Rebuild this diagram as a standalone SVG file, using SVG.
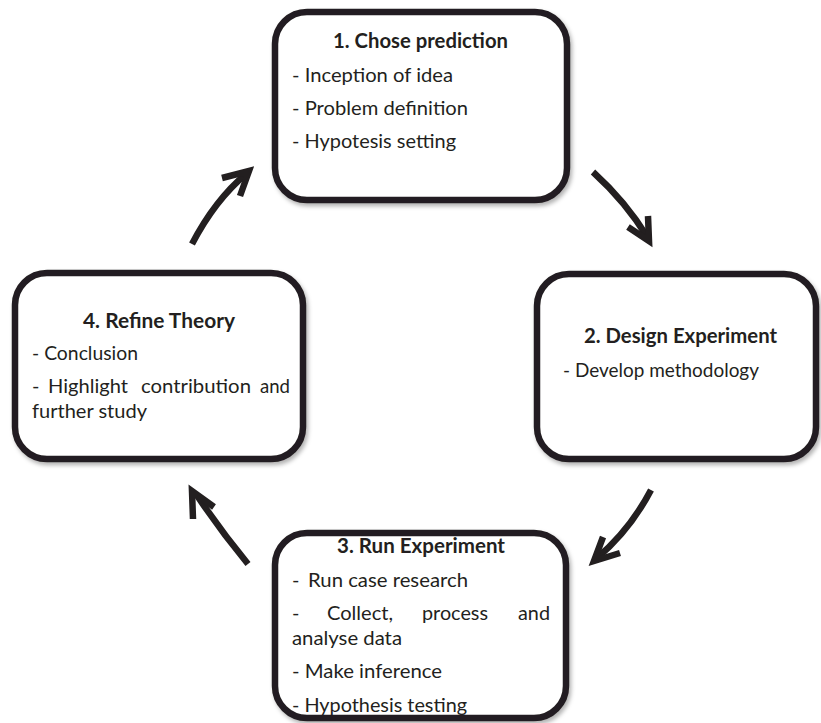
<svg xmlns="http://www.w3.org/2000/svg" width="821" height="723" viewBox="0 0 821 723">
  <style>
    .box { fill: #ffffff; stroke: #231f20; stroke-width: 6.5; filter: url(#shadow); }
    .t { font-family: Lato, "Open Sans", "Liberation Sans", sans-serif; font-size: 20px; fill: #231f20; }
    .h { font-weight: bold; }
    .arrow { fill: none; stroke: #231f20; stroke-width: 6.5; stroke-linecap: butt; stroke-linejoin: miter; }
  </style>
  <defs>
    <filter id="shadow" x="-10%" y="-10%" width="125%" height="125%">
      <feDropShadow dx="2" dy="3" stdDeviation="2" flood-color="#000000" flood-opacity="0.3"/>
    </filter>
  </defs>
  <rect width="821" height="723" fill="#ffffff"/>

  <!-- Step 1 -->
  <g id="node-chose-prediction">
    <rect class="box" x="275" y="12" width="292" height="188" rx="32"/>
    <text class="t h" x="333" y="48" textLength="175" lengthAdjust="spacingAndGlyphs">1. Chose prediction</text>
    <text class="t" x="292" y="82" textLength="161" lengthAdjust="spacingAndGlyphs">- Inception of idea</text>
    <text class="t" x="292" y="115" textLength="176" lengthAdjust="spacingAndGlyphs">- Problem definition</text>
    <text class="t" x="292" y="148" textLength="164" lengthAdjust="spacingAndGlyphs">- Hypotesis setting</text>
  </g>

  <!-- Step 2 -->
  <g id="node-design-experiment">
    <rect class="box" x="537" y="274" width="279" height="185" rx="32"/>
    <text class="t h" x="584" y="343" textLength="193" lengthAdjust="spacingAndGlyphs">2. Design Experiment</text>
    <text class="t" x="563" y="377" textLength="196" lengthAdjust="spacingAndGlyphs">- Develop methodology</text>
  </g>

  <!-- Step 3 -->
  <g id="node-run-experiment">
    <rect class="box" x="275" y="533" width="291" height="185" rx="32"/>
    <text class="t h" x="337" y="553" textLength="168" lengthAdjust="spacingAndGlyphs">3. Run Experiment</text>
    <text class="t" x="292" y="587">-</text>
    <text class="t" x="308" y="587" textLength="160" lengthAdjust="spacingAndGlyphs">Run case research</text>
    <text class="t" y="620"><tspan x="292">-</tspan><tspan x="327" textLength="66" lengthAdjust="spacingAndGlyphs">Collect,</tspan><tspan x="422" textLength="66" lengthAdjust="spacingAndGlyphs">process</tspan><tspan x="518" textLength="32" lengthAdjust="spacingAndGlyphs">and</tspan></text>
    <text class="t" x="292" y="645" textLength="110" lengthAdjust="spacingAndGlyphs">analyse data</text>
    <text class="t" x="292" y="678" textLength="150" lengthAdjust="spacingAndGlyphs">- Make inference</text>
    <text class="t" x="292" y="712" textLength="175" lengthAdjust="spacingAndGlyphs">- Hypothesis testing</text>
  </g>

  <!-- Step 4 -->
  <g id="node-refine-theory">
    <rect class="box" x="15" y="273" width="288" height="186" rx="32"/>
    <text class="t h" x="83" y="328" textLength="152" lengthAdjust="spacingAndGlyphs">4. Refine Theory</text>
    <text class="t" x="32" y="360" textLength="106" lengthAdjust="spacingAndGlyphs">- Conclusion</text>
    <text class="t" y="393"><tspan x="32">-</tspan><tspan x="48" textLength="80" lengthAdjust="spacingAndGlyphs">Highlight</tspan><tspan x="141" textLength="110" lengthAdjust="spacingAndGlyphs">contribution</tspan><tspan x="260" textLength="30" lengthAdjust="spacingAndGlyphs">and</tspan></text>
    <text class="t" x="32" y="418" textLength="115" lengthAdjust="spacingAndGlyphs">further study</text>
  </g>

  <!-- Cycle arrows: curved shafts with open chevron heads -->
  <g id="connectors">
    <!-- 1 to 2 -->
    <path class="arrow" d="M593,172 Q626,202 648,238"/>
    <path class="arrow" d="M648,216 L649,241 L628,227"/>
    <!-- 2 to 3 -->
    <path class="arrow" d="M651,490 Q630,530 597,558"/>
    <path class="arrow" d="M603,537 L594,561 L620,553"/>
    <!-- 3 to 4 -->
    <path class="arrow" d="M248,564 Q220,530 196,494"/>
    <path class="arrow" d="M193,519 L192,491 L214,507"/>
    <!-- 4 to 1 -->
    <path class="arrow" d="M192,244 Q215,200 246,174"/>
    <path class="arrow" d="M222,178 L249,171 L240,196"/>
  </g>
</svg>
